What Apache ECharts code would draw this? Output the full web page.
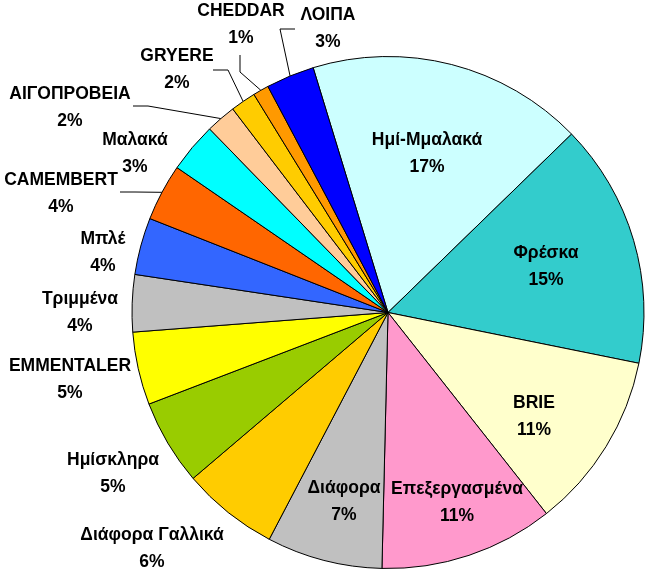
<!DOCTYPE html>
<html>
<head>
<meta charset="utf-8">
<script src="https://cdn.jsdelivr.net/npm/echarts@6/dist/echarts.min.js"></script>
<style>
html,body{margin:0;padding:0;background:#fff;}
#chart{width:646px;height:573px;}
</style>
</head>
<body>
<div id="chart"></div>
<script>
// ---- data ----
const categories = ['Ημί-Μμαλακά','Φρέσκα','BRIE','Επεξεργασμένα','Διάφορα','Διάφορα Γαλλικά','Ημίσκληρα','EMMENTALER','Τριμμένα','Μπλέ','CAMEMBERT','Μαλακά','ΑΙΓΟΠΡΟΒΕΙΑ','GRYERE','CHEDDAR','ΛΟΙΠΑ'];
const values = [17.45, 15.45, 11.2, 11.0, 7.3, 6.1, 5.4, 4.6, 3.6, 3.6, 3.6, 3.15, 1.9, 1.6, 1.0, 3.05];

// ---- styles / layout ----
const colors = ['#CCFFFF','#33CCCC','#FFFFCC','#FF99CC','#C0C0C0','#FFCC00','#99CC00','#FFFF00','#C0C0C0','#3366FF','#FF6600','#00FFFF','#FFCC99','#FFCC00','#FF9900','#0000FF'];
const insideCount = 5;
const labelPos = [[427,154],[546,267],[534,417],[457,503],[344,502],[152,549],[113,474],[70,380],[80,313],[103,253],[61,194],[135,154],[70,108],[177,70],[241,25],[328,29]];
const linePts = {
  10: [[135,192],[120,192]],
  12: [[148,106],[133,106]],
  13: [[228,70],[213,70]],
  14: [[240,72],[240,55]],
  15: [[280,29],[295,29]]
};

const data = categories.map((c, i) => ({
  name: c,
  value: values[i],
  itemStyle: { color: colors[i] },
  label: { position: i < insideCount ? 'inside' : 'outside' },
  labelLine: { show: !!linePts[i] }
}));

const chart = echarts.init(document.getElementById('chart'), null, {renderer:'canvas'});
chart.setOption({
  backgroundColor: '#ffffff',
  animation: false,
  series: [{
    type: 'pie',
    center: [388, 312.5],
    radius: [0, 256],
    startAngle: 107,
    clockwise: true,
    avoidLabelOverlap: false,
    data: data,
    itemStyle: { borderColor: '#000', borderWidth: 1 },
    emphasis: { disabled: true },
    label: {
      show: true,
      formatter: p => p.name + '\n' + Math.round(p.percent) + '%',
      fontFamily: 'Liberation Sans',
      fontWeight: 'bold',
      fontSize: 17.5,
      lineHeight: 27,
      color: '#000',
      align: 'center'
    },
    labelLine: {
      length: 10, length2: 10,
      lineStyle: { color: '#000', width: 1 }
    },
    labelLayout: function (params) {
      const i = params.dataIndex;
      const pos = labelPos[i];
      const res = { x: pos[0], y: pos[1], align: 'center', verticalAlign: 'middle' };
      if (linePts[i] && params.labelLinePoints) {
        res.labelLinePoints = [params.labelLinePoints[0], linePts[i][0], linePts[i][1]];
      }
      return res;
    }
  }]
});
</script>
</body>
</html>
